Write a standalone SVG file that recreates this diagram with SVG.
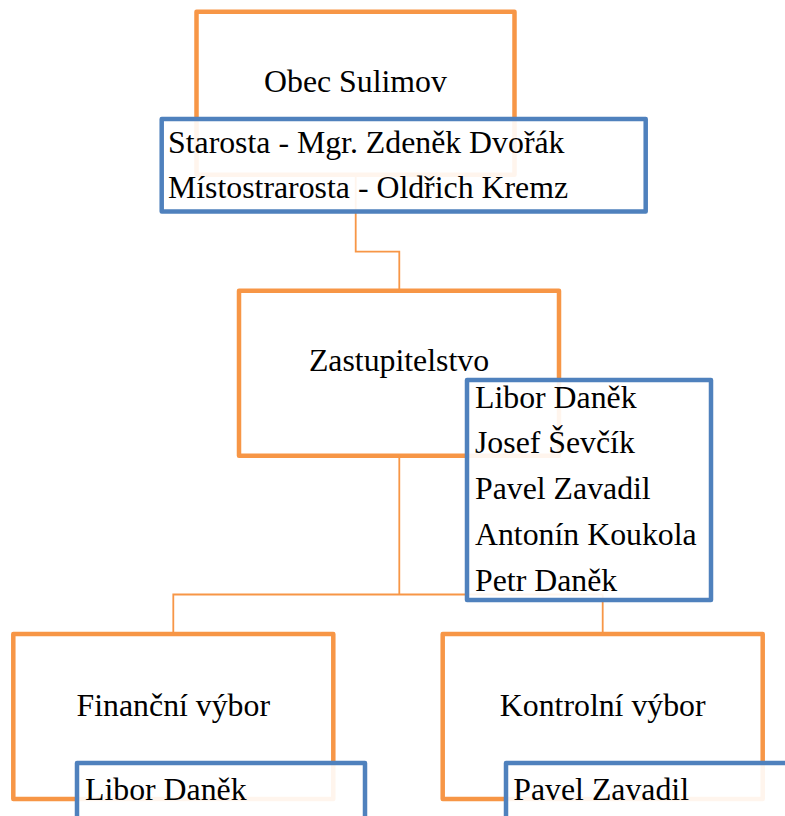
<svg xmlns="http://www.w3.org/2000/svg" width="785" height="816" viewBox="0 0 785 816">
<style>
.ob{fill:#ffffff;stroke:#F79646;stroke-width:4.5;stroke-linejoin:round}
.bb{fill:#ffffff;fill-opacity:0.9;stroke:#4F81BD;stroke-width:4.5;stroke-linejoin:round}
.cn{fill:none;stroke:#F79646;stroke-width:1.8}
text{font-family:"Liberation Serif","Times New Roman",serif;font-size:31.8px;fill:#000000}
.c{text-anchor:middle}
</style>
<rect width="785" height="816" fill="#ffffff"/>
<g id="obec-box"><rect class="ob" x="196.5" y="11.7" width="318" height="163"/><text class="c" x="355.5" y="91.7">Obec Sulimov</text></g>
<g id="zastupitelstvo-box"><rect class="ob" x="239" y="290.7" width="320" height="165"/><text class="c" x="399" y="370.7">Zastupitelstvo</text></g>
<g id="financni-box"><rect class="ob" x="13.3" y="634" width="320" height="165"/><text class="c" x="173.3" y="716">Finanční výbor</text></g>
<g id="kontrolni-box"><rect class="ob" x="442.7" y="634" width="320" height="165"/><text class="c" x="602.7" y="716">Kontrolní výbor</text></g>
<g id="connectors">
<path class="cn" d="M355.7 174.7V251.7H399.3V290.7"/>
<path class="cn" d="M399.3 455.7V594.5"/>
<path class="cn" d="M173.3 634V594.5H602.7V634"/>
</g>
<g id="vedeni"><rect class="bb" x="161.7" y="119" width="484" height="92.5"/><text x="168" y="152.7">Starosta - Mgr. Zdeněk Dvořák</text><text x="168" y="198.3">Místostrarosta - Oldřich Kremz</text></g>
<g id="clenove"><rect class="bb" x="467" y="380" width="244" height="220"/><text x="475" y="407.7">Libor Daněk</text><text x="475" y="453.3">Josef Ševčík</text><text x="475" y="499">Pavel Zavadil</text><text x="475" y="545">Antonín Koukola</text><text x="475" y="590.7">Petr Daněk</text></g>
<g id="financni-clen"><rect class="bb" x="77" y="763" width="288" height="70"/><text x="85" y="800">Libor Daněk</text></g>
<g id="kontrolni-clen"><rect class="bb" x="506" y="763" width="300" height="70"/><text x="513.3" y="800">Pavel Zavadil</text></g>
</svg>
